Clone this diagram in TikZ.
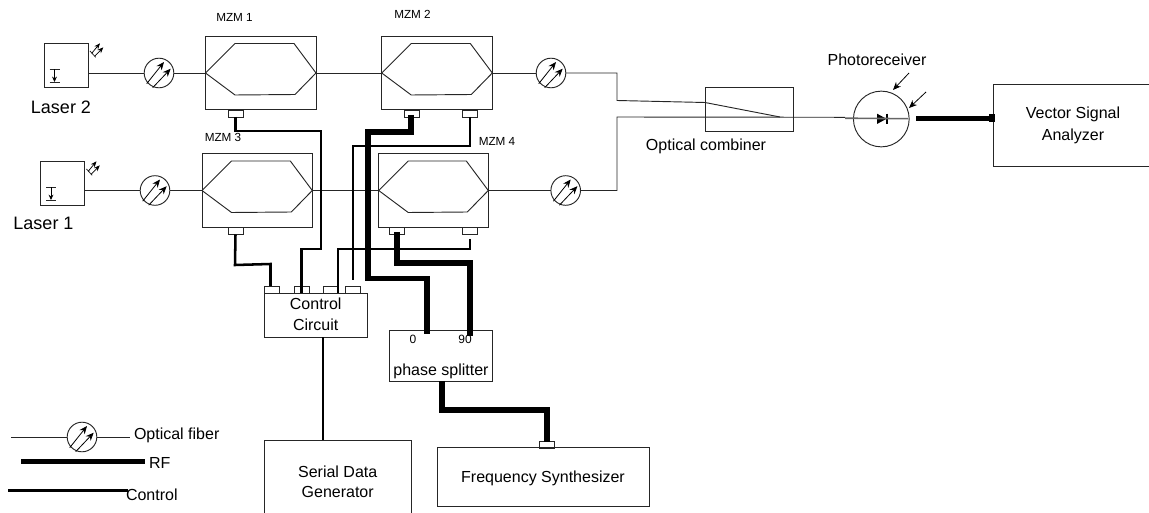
\documentclass[tikz,border=0pt]{standalone}
\usepackage{fontspec}
\setmainfont{Liberation Sans}
\usetikzlibrary{arrows.meta,calc}
\tikzset{
  x=0.75pt,y=-0.75pt,
  ln/.style={draw=black!85,line width=0.7pt},
  thin box/.style={ln,fill=none,rectangle,inner sep=0pt,outer sep=0pt},
  fiber/.style={draw=black!85,line width=0.7pt},
  ctrl/.style={draw=black,line width=1.9pt,line join=miter},
  rfline/.style={draw=black,line width=4.2pt,line join=miter},
  arr/.style={draw=black,line width=0.6pt,-{Stealth[length=6pt,width=5pt]}},
  txt/.style={inner sep=0pt,outer sep=0pt,font=\fontsize{12}{15}\selectfont,align=center},
  small/.style={inner sep=0pt,outer sep=0pt,font=\fontsize{8.8}{11}\selectfont},
  big/.style={inner sep=0pt,outer sep=0pt,font=\fontsize{13.5}{16}\selectfont},
}
% \bx{name}{x1}{y1}{x2}{y2}{text}
\newcommand\bx[6]{\node[thin box,txt,minimum width={(#4-#2)*0.75pt},minimum height={(#5-#3)*0.75pt}] (#1) at ({(#2+#4)/2},{(#3+#5)/2}) {#6};}
\newcommand\padbox[3]{\node[thin box,minimum width=11.25pt,minimum height=5.25pt] (#1) at ({#2+7.5},{#3+3.5}) {};}
% \mzmbox{name}{x1}{y1}{x2}
\newcommand\mzmbox[4]{%
  \bx{#1}{#2}{#3}{#4}{#3+73.5}{}
  \coordinate (#1in) at (#2,#3+37);
  \coordinate (#1out) at (#4,#3+37);
  \draw[fiber,line join=miter] (#1in) -- (#2+29.5,#3+7.5) -- (#4-22,#3+7.5) -- (#1out) -- (#4-21,#3+58.5) -- (#2+29.5,#3+59) -- cycle;
}
% \fibcirc{name}{cx}{cy}
\newcommand\fibcirc[3]{%
  \node[circle,ln,inner sep=0pt,outer sep=0pt,minimum size=22.2pt] (#1) at (#2,#3) {};
  \draw[arr] (#2-12.3,#3+10.7) -- (#2+5,#3-11);
  \draw[arr] (#2-6.3,#3+14.7) -- (#2+11.7,#3-4.3);
}
% \laser{name}{x1}{y1}
\newcommand\laser[3]{%
  \bx{#1}{#2}{#3}{#2+44}{#3+44.5}{}
  \draw[fiber,line width=0.6pt] (#2+46,#3+8) -- (#2+51.7,#3+14.3);
  \draw[arr,line width=0.55pt,-{Stealth[length=4.5pt,width=3.6pt]}] (#2+47.7,#3+10.3) -- (#2+56,#3+0.3);
  \draw[arr,line width=0.55pt,-{Stealth[length=4.5pt,width=3.6pt]}] (#2+51,#3+13) -- (#2+59.3,#3+4.3);
  \draw[fiber,line width=0.6pt] (#2+5.5,#3+26.3) -- (#2+15.5,#3+26.3);
  \draw[fiber,line width=0.6pt] (#2+5.5,#3+39) -- (#2+15.5,#3+39);
  \draw[arr,line width=0.55pt,-{Stealth[length=4pt,width=3.6pt]}] (#2+10.5,#3+26.3) -- (#2+10.5,#3+39);
}
\begin{document}
\begin{tikzpicture}
\useasboundingbox (0,0) rectangle (1149,513);
\clip (0,0) rectangle (1149,513);

% Lasers
\laser{laserB}{44}{43}
\laser{laserA}{40.5}{161}
\node[big] (tlaserB) at (61,107) {Laser 2};
\node[big] (tlaserA) at (43.5,223) {Laser 1};

% Fiber couplers
\fibcirc{fA}{159}{73}
\fibcirc{fB}{155}{190.5}
\fibcirc{fC}{551}{73}
\fibcirc{fD}{565.7}{190.5}
\fibcirc{fL}{82}{437}

% Modulators
\mzmbox{mA}{205.5}{36}{316}
\mzmbox{mB}{381.7}{36}{492.3}
\mzmbox{mC}{202}{153.5}{312.3}
\mzmbox{mD}{378.7}{153.5}{488.3}
\node[small] (tmA) at (234.5,17) {MZM 1};
\node[small] (tmB) at (412.5,14) {MZM 2};
\node[small] (tmC) at (223,137) {MZM 3};
\node[small] (tmD) at (497,141) {MZM 4};

% Pads
\padbox{pA}{228}{110}
\padbox{pB}{404}{110}
\padbox{pBb}{462.5}{110}
\padbox{pC}{228}{227.5}
\padbox{pD}{389.5}{227.5}
\padbox{pDb}{462.5}{227.5}
\padbox{cA}{264.5}{286}
\padbox{cB}{294}{286}
\padbox{cC}{323}{286}
\padbox{cD}{345}{286}
\padbox{pF}{539.3}{441.5}

% Boxes
\bx{comb}{705}{87.5}{793}{131.7}{}
\bx{vsa}{993}{84.5}{1160}{166}{}
\node[txt] (tvsa) at (1073,125.5) {Vector Signal\\[1pt]Analyzer};
\bx{cc}{264.5}{293.3}{367.3}{337.3}{}
\node[txt] (tcc) at (315.7,314) {Control\\[1pt]Circuit};
\bx{ps}{389.5}{330}{492.5}{381.5}{}
\node[txt] (t0) at (413,339) {\fontsize{9}{11}\selectfont 0};
\node[txt] (t90) at (465,339) {\fontsize{9}{11}\selectfont 90};
\node[txt] (tps) at (441,371) {phase splitter};
\bx{sdg}{264.5}{440}{411.7}{530}{}
\node[txt] (tsdg) at (337.7,481.5) {Serial Data\\Generator};
\bx{fs}{437.7}{447}{649}{506.7}{}
\node[txt] (tfs) at (543,478.7) {Frequency Synthesizer};
\node[txt] (tcomb) at (706,146.5) {Optical combiner};
\node[txt] (tpr) at (877,59.5) {Photoreceiver};

% Photoreceiver
\node[circle,ln,inner sep=0pt,outer sep=0pt,minimum size=41.8pt] (pr) at (881.3,119) {};
\fill[black] (877,113.7) -- (886.5,118.8) -- (877,124) -- cycle;
\draw[black,line width=0.8pt] (887,113.7) -- (887,124);
\coordinate (ar1) at (909,73);
\coordinate (ar2) at (926,92);
\draw[arr] (ar1) -- (893,90);
\draw[arr] (ar2) -- (909,108);

% Fiber runs
\coordinate (lBo) at (88,73);
\coordinate (lAo) at (84.5,190.5);
\draw[fiber] (lBo) -- (fA.west);
\draw[fiber] (fA.east) -- (mAin);
\draw[fiber] (mAout) -- (mBin);
\draw[fiber] (mBout) -- (fC.west);
\draw[fiber] (lAo) -- (fB.west);
\draw[fiber] (fB.east) -- (mCin);
\draw[fiber] (mCout) -- (mDin);
\draw[fiber] (mDout) -- (fD.west);
\coordinate (jT) at (617,73);
\coordinate (jTb) at (617,100.5);
\coordinate (cin) at (705,102.5);
\coordinate (cout) at (780,117);
\coordinate (jB) at (617,190.5);
\coordinate (jBb) at (617,117);
\coordinate (prL) at (845,117.3);
\draw[fiber] (fC.east) -- (jT) -- (jTb) -- (cin) -- (cout);
\draw[fiber] (fD.east) -- (jB) -- (jBb) -- (prL);
\coordinate (prR) at (908,118.7);
\draw[draw=black!60,line width=1.2pt] (845,118.2) -- (prR);

% Photoreceiver output
\coordinate (rfO) at (916,118.7);
\coordinate (vsaIn) at (995,118.7);
\draw[rfline] (rfO) -- (vsaIn);
\fill[black] (989,114) rectangle (995,122);

% Control lines
\draw[ctrl] (pA.south) -- ++(0,14) -| (321,249) -| (cB.south);
\draw[ctrl] (pC.south) -- (235,265) -- (270.5,264) -- (270.5,286);
\draw[ctrl] (pBb.south) |- (353,146) -- (353,280);
\draw[ctrl] (pDb.south) ++(0,5) -- (470,249) -| (338,293);
\draw[ctrl] (cc.south -| 323,337) -- (sdg.north -| 323,440);

% RF lines
\draw[rfline] (411,115) -- (411,132) -- (368,132) -- (368,278.7) -- (427,278.7) -- (427,334);
\draw[rfline] (397,232) -- (397,263) -- (470,263) -- (470,336);
\draw[rfline] (442,381) -- (442,410) -- (546.8,410) -- (pF.north);

% Legend
\coordinate (lgA) at (11,437);
\coordinate (lgB) at (130,437);
\draw[fiber] (lgA) -- (fL.west);
\draw[fiber] (fL.east) -- (lgB);
\node[txt,anchor=west] (tlgA) at (134,435) {Optical fiber};
\coordinate (lgC) at (21,461.5);
\coordinate (lgD) at (145,461.5);
\draw[rfline] (lgC) -- (lgD);
\node[txt,anchor=west] (tlgB) at (149,463) {RF};
\coordinate (lgE) at (8,490.5);
\coordinate (lgF) at (128,490.5);
\draw[ctrl] (lgE) -- (lgF);
\node[txt,anchor=west] (tlgC) at (126,494.5) {Control};
\end{tikzpicture}
\end{document}
